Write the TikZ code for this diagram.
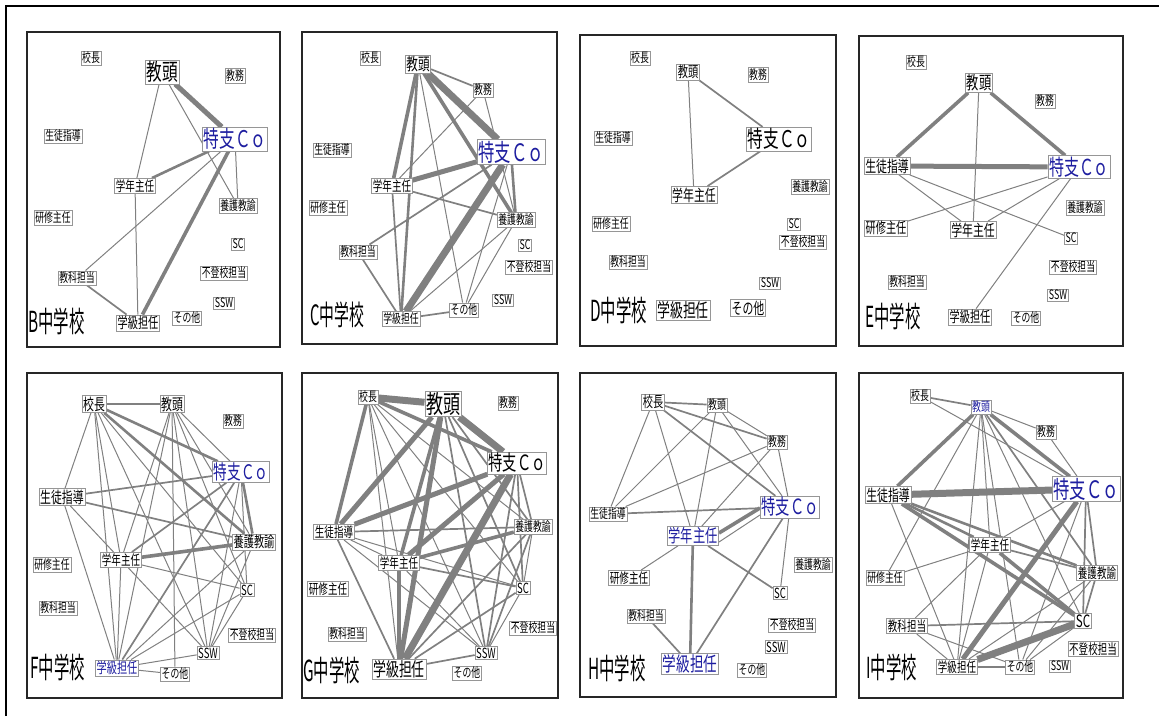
\documentclass[tikz,border=0pt]{standalone}
\usepackage{fontspec}
\newfontfamily\jp[FakeStretch=0.68]{Noto Sans CJK JP}
\newfontfamily\jplab[FakeStretch=0.53]{Noto Sans CJK JP}
\pgfdeclarelayer{bg}
\pgfsetlayers{bg,main}
\definecolor{eg}{RGB}{128,128,128}
\definecolor{nb}{RGB}{150,150,150}
\definecolor{bl}{RGB}{30,30,160}
\begin{document}
\begin{tikzpicture}[x=1pt,y=-1pt,
 nd/.style={draw=nb, fill=white, inner sep=1.2pt, line width=0.6pt, text=black},
 fs/.style={font=\jp\fontsize{#1}{#1}\selectfont},
 blu/.style={text=bl},
 lab/.style={anchor=west, inner sep=0pt, font=\jplab\fontsize{29}{29}\selectfont},
 pan/.style={draw=black!85, line width=1.3pt},
 e1/.style={draw=eg, line width=1pt},
 e2/.style={draw=eg, line width=1.7pt},
 e3/.style={draw=eg, line width=2.6pt},
 e4/.style={draw=eg, line width=3.6pt},
 e5/.style={draw=eg, line width=5pt},
 e6/.style={draw=eg, line width=7pt}]
\useasboundingbox (0,0) rectangle (1159,716);
\draw[line width=1.3pt] (6,716) -- (6,6) -- (1159,6);
% panel frames
\draw[pan] (27,32) rectangle (280,347);
\draw[pan] (302,32) rectangle (557,344);
\draw[pan] (580,35) rectangle (836,346);
\draw[pan] (859,36) rectangle (1123,346);
\draw[pan] (27,373) rectangle (282,698);
\draw[pan] (302,373) rectangle (558,698);
\draw[pan] (580,373) rectangle (836,697);
\draw[pan] (859,373) rectangle (1123,698);

% ---------- B ----------
\node[nd,fs=13] (B-ko) at (91,58) {校長};
\node[nd,fs=23] (B-kt) at (162,72) {教頭};
\node[nd,fs=13] (B-km) at (235,76) {教務};
\node[nd,fs=23,blu] (B-tc) at (235,139) {特支Ｃｏ};
\node[nd,fs=13] (B-sd) at (63,136) {生徒指導};
\node[nd,fs=14] (B-gn) at (135,186) {学年主任};
\node[nd,fs=13] (B-yg) at (238,206) {養護教諭};
\node[nd,fs=13] (B-ks) at (53,218) {研修主任};
\node[nd,fs=13] (B-sc) at (238,244) {SC};
\node[nd,fs=13] (B-ft) at (224,273) {不登校担当};
\node[nd,fs=13] (B-kk) at (77,278) {教科担当};
\node[nd,fs=13] (B-ssw) at (224,303) {SSW};
\node[nd,fs=13] (B-so) at (187,318) {その他};
\node[nd,fs=15] (B-gk) at (138,323) {学級担任};
\node[lab] (B-lab) at (28,321) {B中学校};

% ---------- C ----------
\node[nd,fs=13] (C-ko) at (370,58) {校長};
\node[nd,fs=17] (C-kt) at (418,64) {教頭};
\node[nd,fs=13] (C-km) at (483,90) {教務};
\node[nd,fs=24,blu] (C-tc) at (511,152) {特支Ｃｏ};
\node[nd,fs=13] (C-sd) at (332,150) {生徒指導};
\node[nd,fs=14] (C-gn) at (392,186) {学年主任};
\node[nd,fs=13] (C-ks) at (328,208) {研修主任};
\node[nd,fs=13] (C-yg) at (516,220) {養護教諭};
\node[nd,fs=13] (C-sc) at (525,245) {SC};
\node[nd,fs=13] (C-ft) at (529,267) {不登校担当};
\node[nd,fs=13] (C-kk) at (358,252) {教科担当};
\node[nd,fs=13] (C-ssw) at (503,300) {SSW};
\node[nd,fs=13] (C-so) at (464,310) {その他};
\node[nd,fs=13] (C-gk) at (401,319) {学級担任};
\node[lab,font=\jplab\fontsize{28}{28}\selectfont] (C-lab) at (310,315) {C中学校};

% ---------- D ----------
\node[nd,fs=13] (D-ko) at (640,58) {校長};
\node[nd,fs=15] (D-kt) at (688,72) {教頭};
\node[nd,fs=13] (D-km) at (758,75) {教務};
\node[nd,fs=23] (D-tc) at (779,139) {特支Ｃｏ};
\node[nd,fs=13] (D-sd) at (613,138) {生徒指導};
\node[nd,fs=16] (D-gn) at (694,195) {学年主任};
\node[nd,fs=13] (D-yg) at (810,187) {養護教諭};
\node[nd,fs=13] (D-ks) at (611,224) {研修主任};
\node[nd,fs=13] (D-sc) at (794,224) {SC};
\node[nd,fs=13] (D-ft) at (803,242) {不登校担当};
\node[nd,fs=13] (D-kk) at (628,262) {教科担当};
\node[nd,fs=13] (D-ssw) at (770,283) {SSW};
\node[nd,fs=16] (D-so) at (748,308) {その他};
\node[nd,fs=19] (D-gk) at (683,310) {学級担任};
\node[lab] (D-lab) at (590,310) {D中学校};

% ---------- E ----------
\node[nd,fs=13] (E-ko) at (916,62) {校長};
\node[nd,fs=18] (E-kt) at (979,83) {教頭};
\node[nd,fs=13] (E-km) at (1045,101) {教務};
\node[nd,fs=22,blu] (E-tc) at (1079,167) {特支Ｃｏ};
\node[nd,fs=16] (E-sd) at (887,166) {生徒指導};
\node[nd,fs=13] (E-yg) at (1085,208) {養護教諭};
\node[nd,fs=15] (E-ks) at (886,228) {研修主任};
\node[nd,fs=16] (E-gn) at (973,230) {学年主任};
\node[nd,fs=13] (E-sc) at (1071,238) {SC};
\node[nd,fs=13] (E-ft) at (1073,267) {不登校担当};
\node[nd,fs=13] (E-kk) at (907,282) {教科担当};
\node[nd,fs=13] (E-ssw) at (1058,295) {SSW};
\node[nd,fs=13] (E-so) at (1026,318) {その他};
\node[nd,fs=15] (E-gk) at (970,317) {学級担任};
\node[lab] (E-lab) at (865,316) {E中学校};

% ---------- F ----------
\node[nd,fs=16] (F-ko) at (94,404) {校長};
\node[nd,fs=16] (F-kt) at (172,404) {教頭};
\node[nd,fs=13] (F-km) at (233,421) {教務};
\node[nd,fs=20,blu] (F-tc) at (241,472) {特支Ｃｏ};
\node[nd,fs=16] (F-sd) at (62,497) {生徒指導};
\node[nd,fs=15] (F-yg) at (254,542) {養護教諭};
\node[nd,fs=14] (F-gn) at (121,560) {学年主任};
\node[nd,fs=13] (F-ks) at (52,565) {研修主任};
\node[nd,fs=14] (F-sc) at (247,590) {SC};
\node[nd,fs=13] (F-kk) at (58,608) {教科担当};
\node[nd,fs=13] (F-ft) at (252,635) {不登校担当};
\node[nd,fs=14] (F-ssw) at (208,653) {SSW};
\node[nd,fs=15,blu] (F-gk) at (117,668) {学級担任};
\node[nd,fs=13] (F-so) at (175,674) {その他};
\node[lab] (F-lab) at (30,667) {F中学校};

% ---------- G ----------
\node[nd,fs=13] (G-ko) at (368,397) {校長};
\node[nd,fs=25] (G-kt) at (443,404) {教頭};
\node[nd,fs=13] (G-km) at (508,403) {教務};
\node[nd,fs=21] (G-tc) at (517,463) {特支Ｃｏ};
\node[nd,fs=14] (G-sd) at (334,532) {生徒指導};
\node[nd,fs=13] (G-yg) at (533,527) {養護教諭};
\node[nd,fs=14] (G-gn) at (399,563) {学年主任};
\node[nd,fs=14] (G-ks) at (328,589) {研修主任};
\node[nd,fs=14] (G-sc) at (523,588) {SC};
\node[nd,fs=13] (G-kk) at (347,634) {教科担当};
\node[nd,fs=13] (G-ft) at (533,628) {不登校担当};
\node[nd,fs=14] (G-ssw) at (486,653) {SSW};
\node[nd,fs=19] (G-gk) at (399,669) {学級担任};
\node[nd,fs=13] (G-so) at (467,673) {その他};
\node[lab] (G-lab) at (303,670) {G中学校};

% ---------- H ----------
\node[nd,fs=15] (H-ko) at (653,402) {校長};
\node[nd,fs=13] (H-kt) at (717,405) {教頭};
\node[nd,fs=13] (H-km) at (777,442) {教務};
\node[nd,fs=21,blu] (H-tc) at (790,507) {特支Ｃｏ};
\node[nd,fs=13] (H-sd) at (608,514) {生徒指導};
\node[nd,fs=18,blu] (H-gn) at (693,536) {学年主任};
\node[nd,fs=13] (H-yg) at (813,565) {養護教諭};
\node[nd,fs=14] (H-ks) at (629,578) {研修主任};
\node[nd,fs=14] (H-sc) at (780,593) {SC};
\node[nd,fs=13] (H-kk) at (646,616) {教科担当};
\node[nd,fs=13] (H-ft) at (792,625) {不登校担当};
\node[nd,fs=14] (H-ssw) at (776,647) {SSW};
\node[nd,fs=20,blu] (H-gk) at (690,664) {学級担任};
\node[nd,fs=13] (H-so) at (752,670) {その他};
\node[lab] (H-lab) at (588,668) {H中学校};

% ---------- I ----------
\node[nd,fs=13] (I-ko) at (920,396) {校長};
\node[nd,fs=13,blu] (I-kt) at (981,407) {教頭};
\node[nd,fs=13] (I-km) at (1046,432) {教務};
\node[nd,fs=24,blu] (I-tc) at (1086,489) {特支Ｃｏ};
\node[nd,fs=16] (I-sd) at (888,495) {生徒指導};
\node[nd,fs=14] (I-gn) at (990,545) {学年主任};
\node[nd,fs=14] (I-yg) at (1097,573) {養護教諭};
\node[nd,fs=13] (I-ks) at (885,578) {研修主任};
\node[nd,fs=17] (I-sc) at (1083,621) {SC};
\node[nd,fs=14] (I-kk) at (907,626) {教科担当};
\node[nd,fs=14] (I-ft) at (1093,649) {不登校担当};
\node[nd,fs=13] (I-ssw) at (1060,666) {SSW};
\node[nd,fs=14] (I-gk) at (957,667) {学級担任};
\node[nd,fs=13] (I-so) at (1020,667) {その他};
\node[lab] (I-lab) at (866,667) {I中学校};

\begin{pgfonlayer}{bg}
% B
\foreach \a/\b in {B-kt/B-gn,B-gn/B-gk,B-kt/B-yg,B-tc/B-yg,B-tc/B-kk} \draw[e1] (\a) -- (\b);
\draw[e2] (B-kk) -- (B-gk);
\draw[e3] (B-tc) -- (B-gn);
\draw[e4] (B-tc) -- (B-gk);
\draw[e5] (B-kt) -- (B-tc);
% C
\foreach \a/\b in {C-kt/C-so,C-km/C-gn,C-km/C-yg,C-tc/C-so,C-yg/C-gk,C-yg/C-so} \draw[e1] (\a) -- (\b);
\foreach \a/\b in {C-kt/C-km,C-tc/C-kk,C-gn/C-yg,C-gn/C-gk,C-kk/C-gk,C-gk/C-so} \draw[e2] (\a) -- (\b);
\foreach \a/\b in {C-kt/C-gk,C-tc/C-yg} \draw[e3] (\a) -- (\b);
\foreach \a/\b in {C-kt/C-gn,C-kt/C-yg} \draw[e4] (\a) -- (\b);
\draw[e5] (C-tc) -- (C-gn);
\foreach \a/\b in {C-kt/C-tc,C-tc/C-gk} \draw[e6] (\a) -- (\b);
% D
\draw[e1] (D-kt) -- (D-gn);
\draw[e2] (D-kt) -- (D-tc);
\draw[e2] (D-tc) -- (D-gn);
% E
\foreach \a/\b in {E-kt/E-gn,E-sd/E-gn,E-sd/E-sc,E-ks/E-tc,E-gn/E-tc,E-tc/E-gk} \draw[e1] (\a) -- (\b);
\foreach \a/\b in {E-kt/E-sd,E-kt/E-tc} \draw[e4] (\a) -- (\b);
\draw[e5] (E-sd) -- (E-tc);
% F
\foreach \a/\b in {F-ko/F-sd,F-ko/F-gn,F-ko/F-gk,F-ko/F-sc,F-ko/F-ssw,F-kt/F-tc,F-kt/F-yg,F-kt/F-gn,F-kt/F-gk,F-kt/F-sc,F-kt/F-ssw,F-kt/F-so,F-tc/F-sc,F-tc/F-ssw,F-sd/F-gn,F-sd/F-gk,F-gn/F-sc,F-gn/F-ssw,F-gn/F-gk,F-yg/F-gk,F-yg/F-ssw,F-sc/F-gk,F-sc/F-ssw,F-gk/F-ssw,F-gk/F-so} \draw[e1] (\a) -- (\b);
\foreach \a/\b in {F-ko/F-kt,F-tc/F-sd,F-tc/F-gn,F-tc/F-gk,F-sd/F-yg} \draw[e2] (\a) -- (\b);
\foreach \a/\b in {F-ko/F-tc,F-ko/F-yg,F-tc/F-yg} \draw[e3] (\a) -- (\b);
\draw[e4] (F-gn) -- (F-yg);
% G
\foreach \a/\b in {G-ko/G-gn,G-ko/G-gk,G-ko/G-sc,G-ko/G-ssw,G-ko/G-yg,G-sd/G-gn,G-sd/G-sc,G-sd/G-ssw,G-gn/G-ssw,G-yg/G-sc,G-sc/G-ssw} \draw[e1] (\a) -- (\b);
\foreach \a/\b in {G-kt/G-yg,G-kt/G-sc,G-kt/G-ssw,G-tc/G-yg,G-tc/G-sc,G-tc/G-ssw,G-sd/G-yg,G-sd/G-gk,G-gn/G-sc,G-yg/G-gk,G-yg/G-ssw,G-sc/G-gk,G-ssw/G-gk} \draw[e2] (\a) -- (\b);
\foreach \a/\b in {G-ko/G-tc,G-ko/G-sd,G-kt/G-gn,G-gn/G-yg,G-gn/G-gk} \draw[e4] (\a) -- (\b);
\foreach \a/\b in {G-tc/G-gn,G-kt/G-sd,G-kt/G-gk,G-tc/G-sd} \draw[e5] (\a) -- (\b);
\foreach \a/\b in {G-ko/G-kt,G-kt/G-tc,G-tc/G-gk} \draw[e6] (\a) -- (\b);
% H
\foreach \a/\b in {H-ko/H-sd,H-ko/H-gn,H-kt/H-km,H-kt/H-tc,H-kt/H-sd,H-kt/H-gn,H-km/H-sd,H-km/H-gn,H-km/H-tc,H-gn/H-ks,H-tc/H-sc} \draw[e1] (\a) -- (\b);
\foreach \a/\b in {H-ko/H-kt,H-ko/H-km,H-ko/H-tc,H-sd/H-tc,H-gn/H-sc,H-tc/H-gk,H-kk/H-gk} \draw[e2] (\a) -- (\b);
\draw[e3] (H-gn) -- (H-gk);
\draw[e4] ([yshift=3pt]H-gn.east) -- ([yshift=-1pt]H-tc.west);
\draw[e1] ([yshift=-6pt]H-gn.east) -- ([yshift=-8pt]H-tc.west);
% I
\foreach \a/\b in {I-ko/I-tc,I-kt/I-km,I-kt/I-sc,I-kt/I-gn,I-kt/I-gk,I-kt/I-so,I-kt/I-ks,I-km/I-tc,I-sd/I-gk,I-tc/I-gn,I-tc/I-so,I-gn/I-gk,I-gn/I-kk,I-yg/I-gk,I-yg/I-so,I-sc/I-so,I-kk/I-gk,I-kk/I-so,I-ks/I-gn} \draw[e1] (\a) -- (\b);
\foreach \a/\b in {I-ko/I-kt,I-kt/I-yg,I-tc/I-yg,I-tc/I-sc,I-gn/I-yg,I-yg/I-sc,I-kk/I-sc,I-gk/I-so} \draw[e2] (\a) -- (\b);
\foreach \a/\b in {I-sd/I-yg,I-sd/I-gn} \draw[e3] (\a) -- (\b);
\foreach \a/\b in {I-kt/I-sd,I-kt/I-tc,I-sd/I-sc,I-gn/I-sc} \draw[e4] (\a) -- (\b);
\draw[e5] (I-tc) -- (I-gk);
\foreach \a/\b in {I-sd/I-tc,I-sc/I-gk} \draw[e6] (\a) -- (\b);
\end{pgfonlayer}
\end{tikzpicture}
\end{document}
